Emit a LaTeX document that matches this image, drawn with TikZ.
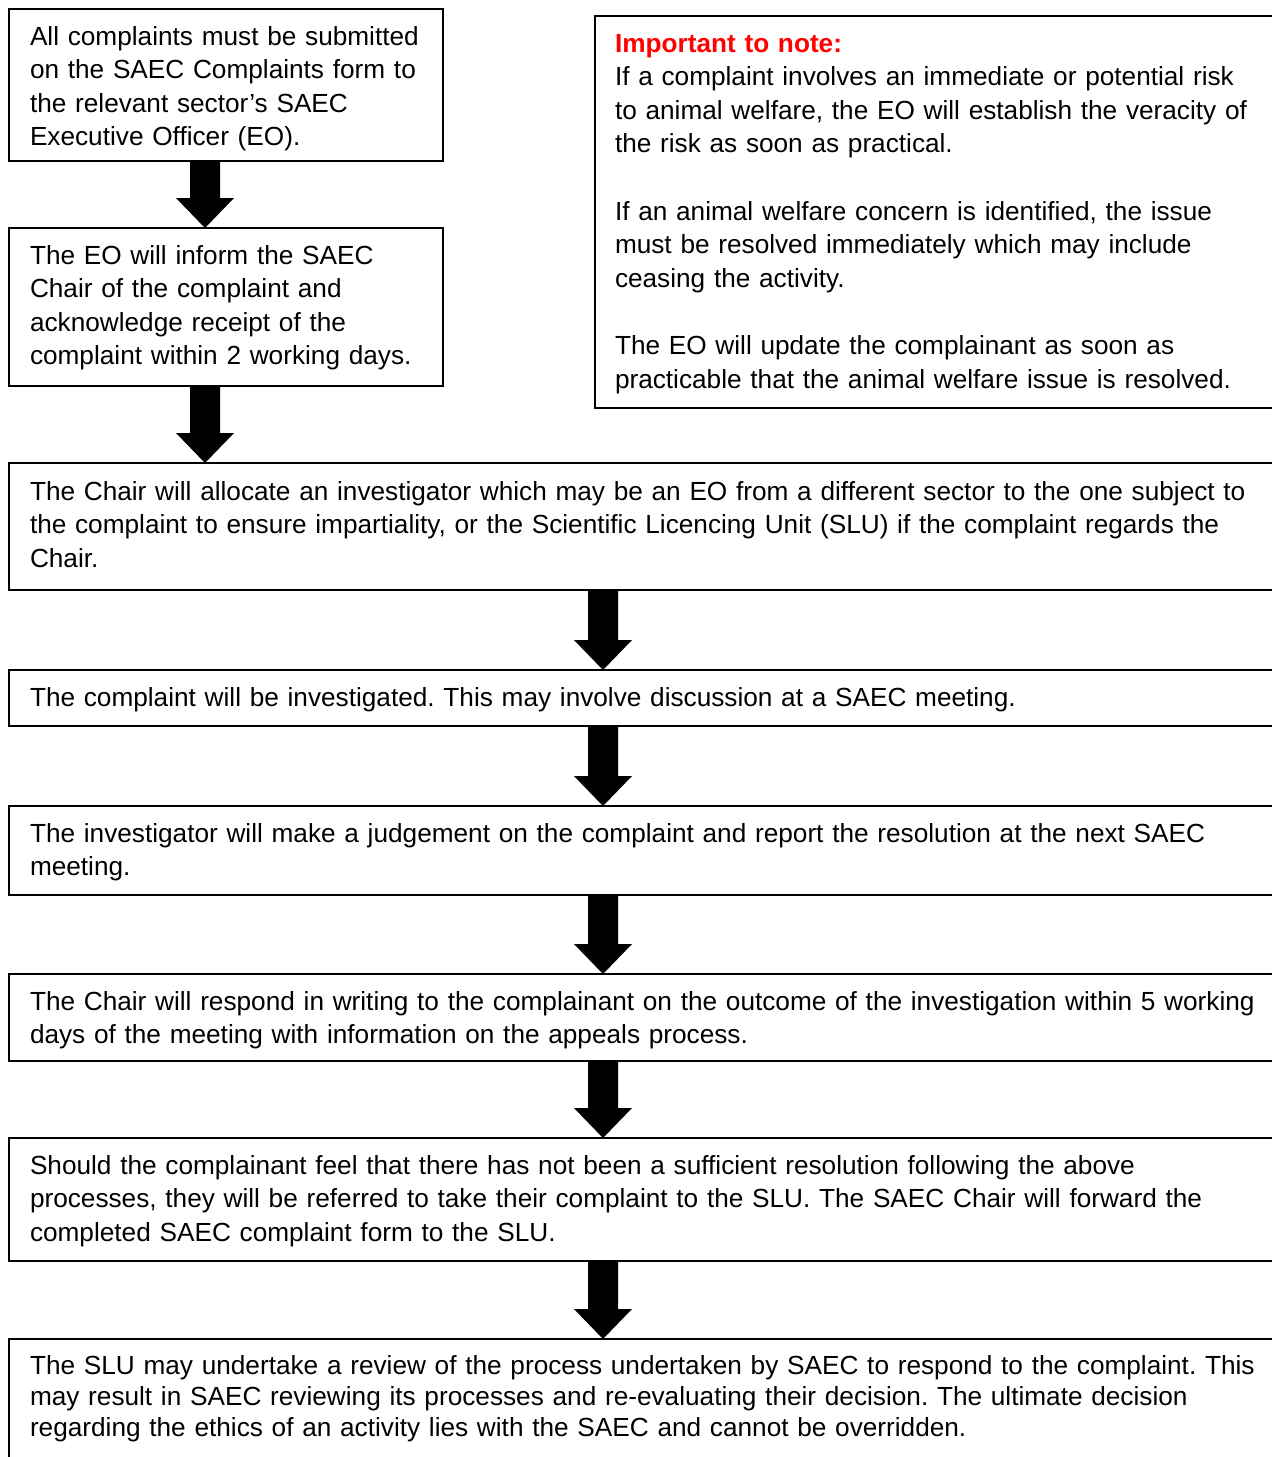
\documentclass[tikz,border=0pt]{standalone}
\usepackage{fontspec}
\setmainfont{Liberation Sans}
\usetikzlibrary{calc}
\definecolor{notered}{RGB}{255,0,0}
\newcommand\blockarrow[2]{%
  \fill[arrowfill] ($(#1)+(-15,0)$) -- ($(#2)+(-15,-30)$) -- ($(#2)+(-29,-30)$) -- (#2)
    -- ($(#2)+(29,-30)$) -- ($(#2)+(15,-30)$) -- ($(#1)+(15,0)$) -- cycle;}
\frenchspacing
\begin{document}
\begin{tikzpicture}[x=1pt,y=-1pt,
  box/.style={draw=black, line width=2pt, inner sep=0pt, outer sep=0pt, anchor=north west},
  txt/.style={anchor=north west, inner sep=0pt, outer sep=0pt, align=left, text width=1250pt,
              font=\fontsize{26.2}{33.6}\selectfont\frenchspacing},
  txtb/.style={txt, font=\fontsize{26.2}{31}\selectfont\frenchspacing},
  arrowfill/.style={fill=black}]
\useasboundingbox (0,0) rectangle (1272,1457);
\fill[white] (0,0) rectangle (1272,1457);
\clip (0,0) rectangle (1272,1457);

\coordinate (ax) at (205,0);
\coordinate (bx) at (603,0);

% boxes
\node[box, minimum width=434pt, minimum height=152pt] (b1) at (9,9) {};
\node[box, minimum width=434pt, minimum height=158pt] (b2) at (9,228) {};
\node[box, minimum width=720pt, minimum height=392pt] (note) at (595,16) {};
\node[box, minimum width=1300pt, minimum height=127pt] (b3) at (9,463) {};
\node[box, minimum width=1300pt, minimum height=56pt] (b4) at (9,670) {};
\node[box, minimum width=1300pt, minimum height=89pt] (b5) at (9,806) {};
\node[box, minimum width=1300pt, minimum height=87pt] (b6) at (9,974) {};
\node[box, minimum width=1300pt, minimum height=123pt] (b7) at (9,1138) {};
\node[box, minimum width=1300pt, minimum height=160pt] (b8) at (9,1339) {};

% texts
\node[txt, text width=420pt] (t1) at (30,21.5) {\strut All complaints must be submitted\\
on the SAEC Complaints form to\\
the relevant sector’s SAEC\\
Executive Officer (EO).};
\node[txt, text width=420pt] (t2) at (30,240.5) {\strut The EO will inform the SAEC\\
Chair of the complaint and\\
acknowledge receipt of the\\
complaint within 2 working days.};
\node[txt, text width=650pt] (tn) at (615,28.5) {\strut\textcolor{notered}{\bfseries Important to note:}\\
If a complaint involves an immediate or potential risk\\
to animal welfare, the EO will establish the veracity of\\
the risk as soon as practical.\\[33.6pt]
If an animal welfare concern is identified, the issue\\
must be resolved immediately which may include\\
ceasing the activity.\\[33.6pt]
The EO will update the complainant as soon as\\
practicable that the animal welfare issue is resolved.};
\node[txt] (t3) at (30,476.5) {\strut The Chair will allocate an investigator which may be an EO from a different sector to the one subject to\\
the complaint to ensure impartiality, or the Scientific Licencing Unit (SLU) if the complaint regards the\\
Chair.};
\node[txt] (t4) at (30,682.5) {\strut The complaint will be investigated. This may involve discussion at a SAEC meeting.};
\node[txt] (t5) at (30,818.5) {\strut The investigator will make a judgement on the complaint and report the resolution at the next SAEC\\
meeting.};
\node[txt] (t6) at (30,986.5) {\strut The Chair will respond in writing to the complainant on the outcome of the investigation within 5 working\\
days of the meeting with information on the appeals process.};
\node[txt] (t7) at (30,1150.5) {\strut Should the complainant feel that there has not been a sufficient resolution following the above\\
processes, they will be referred to take their complaint to the SLU. The SAEC Chair will forward the\\
completed SAEC complaint form to the SLU.};
\node[txtb] (t8) at (30,1352.5) {\strut The SLU may undertake a review of the process undertaken by SAEC to respond to the complaint. This\\
may result in SAEC reviewing its processes and re-evaluating their decision. The ultimate decision\\
regarding the ethics of an activity lies with the SAEC and cannot be overridden.};

% arrows
\blockarrow{b1.south -| ax}{b2.north -| ax}
\blockarrow{b2.south -| ax}{b3.north -| ax}
\blockarrow{b3.south -| bx}{b4.north -| bx}
\blockarrow{b4.south -| bx}{b5.north -| bx}
\blockarrow{b5.south -| bx}{b6.north -| bx}
\blockarrow{b6.south -| bx}{b7.north -| bx}
\blockarrow{b7.south -| bx}{b8.north -| bx}
\end{tikzpicture}
\end{document}
